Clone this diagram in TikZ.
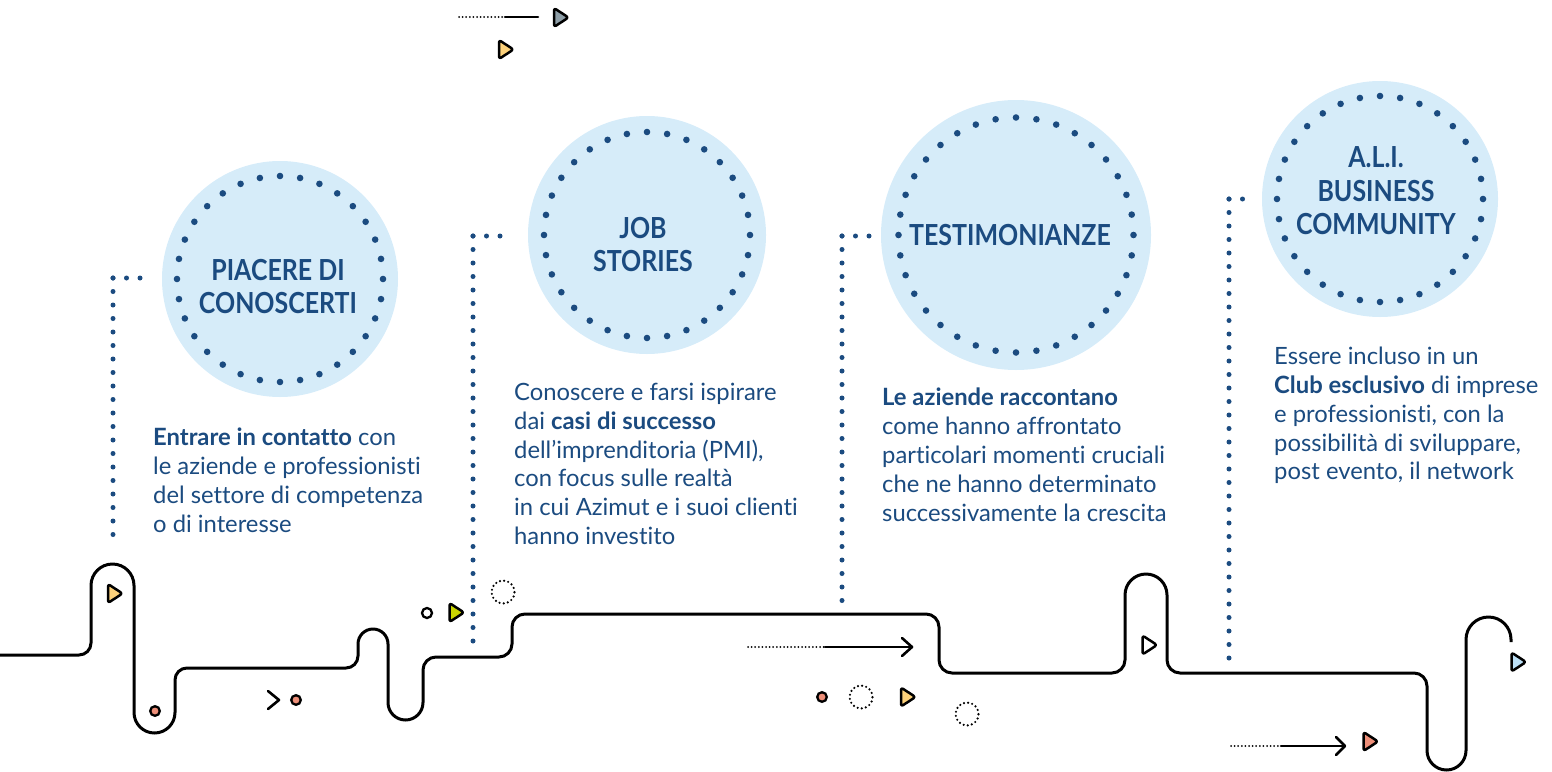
\documentclass[tikz,border=0pt]{standalone}
\usepackage{fontspec}
\setmainfont{Lato}[Ligatures=NoCommon]
\newfontfamily\titlefont[FakeStretch=0.86]{Lato}
\definecolor{darkb}{HTML}{1B4B80}
\definecolor{lightb}{HTML}{D6ECF9}
\definecolor{yellowc}{HTML}{FDD27B}
\definecolor{greyc}{HTML}{8E9EA7}
\definecolor{greenc}{HTML}{C9D400}
\definecolor{salmonc}{HTML}{EE8F79}
\definecolor{skyc}{HTML}{BBDFF5}
\tikzset{
  bigcirc/.style={circle, fill=lightb, inner sep=0pt, minimum size=#1},
  titletext/.style={text=darkb, align=center, inner sep=0pt, font=\titlefont\fontsize{29pt}{33.5pt}\selectfont\bfseries},
  bodytext/.style={text=darkb, align=left, inner sep=0pt, anchor=north west, font=\fontsize{23.8pt}{28.8pt}\selectfont},
  bluedots/.style={darkb, line width=5pt, line cap=round, dash pattern=on 0pt off 13.5pt},
  blackdots/.style={black, line width=2pt, line cap=round, dash pattern=on 0pt off 3.6pt},
  blk/.style={black, line width=2.6pt, line cap=round, line join=round},
  pathline/.style={black, line width=3pt},
  dotcirc/.style={black, line width=2.4pt, line cap=round, dash pattern=on 0pt off 4.2pt},
  pics/tri/.style={code={\draw[black, line width=2.5pt, line join=round, rounded corners=2.5pt, fill=#1] (-6.5,9.5) -- (8,0) -- (-6.5,-9.5) -- cycle;}}
}
\begin{document}
\begin{tikzpicture}[x=1pt, y=-1pt]
\useasboundingbox (0,0) rectangle (1552,771);

% winding path
\draw[pathline] (0,655) -- (79,655) arc[start angle=-90, end angle=0, radius=12pt]
  -- (91,585.5) arc[start angle=180, end angle=0, radius=21.5pt]
  -- (134,712.5) arc[start angle=180, end angle=360, radius=20.5pt]
  -- (175,680) arc[start angle=180, end angle=90, radius=12pt]
  -- (346,668) arc[start angle=-90, end angle=0, radius=12pt]
  -- (358,644) arc[start angle=180, end angle=0, radius=15pt]
  -- (388,702.5) arc[start angle=180, end angle=360, radius=17.5pt]
  -- (423,670) arc[start angle=180, end angle=90, radius=13pt]
  -- (499,657) arc[start angle=-90, end angle=0, radius=13pt]
  -- (512,627) arc[start angle=180, end angle=90, radius=13pt]
  -- (926,614) arc[start angle=90, end angle=0, radius=13pt]
  -- (939,660) arc[start angle=180, end angle=270, radius=13pt]
  -- (1112,673) arc[start angle=-90, end angle=0, radius=13pt]
  -- (1125,595) arc[start angle=180, end angle=0, radius=21pt]
  -- (1167,660) arc[start angle=180, end angle=270, radius=13pt]
  -- (1414,673) arc[start angle=90, end angle=0, radius=13pt]
  -- (1427,750.5) arc[start angle=180, end angle=360, radius=19.5pt]
  -- (1466,639.5) arc[start angle=180, end angle=0, radius=22.5pt]
  -- (1511,642);

% circles
\node[bigcirc=236pt] (c1) at (280,279) {};
\node[bigcirc=238pt] (c2) at (647,235) {};
\node[bigcirc=270pt] (c3) at (1016,235) {};
\node[bigcirc=236pt] (c4) at (1380,199) {};
\foreach \a in {0,...,31} {
  \fill[darkb] (c1.center) ++(\a*11.25:103pt) circle (3.3pt);
  \fill[darkb] (c2.center) ++(\a*11.25:103pt) circle (3.3pt);
  \fill[darkb] (c4.center) ++(\a*11.25:103pt) circle (3.3pt);
}
\foreach \a in {0,...,35} {
  \fill[darkb] (c3.center) ++(\a*10:117.5pt) circle (3.3pt);
}

% titles
\node[titletext] (t1) at (278,286.5) {PIACERE DI\\CONOSCERTI};
\node[titletext] (t2) at (643,244.5) {JOB\\STORIES};
\node[titletext] (t3) at (1010,235) {TESTIMONIANZE};
\node[titletext] (t4) at (1376,191) {A.L.I.\\BUSINESS\\COMMUNITY};

% descriptions
\node[bodytext] (d1) at (153,428) {\textbf{Entrare in contatto} con\\le aziende e professionisti\\del settore di competenza\\o di interesse};
\node[bodytext] (d2) at (514,383) {Conoscere e farsi ispirare\\dai \textbf{casi di successo}\\dell’imprenditoria (PMI),\\con focus sulle realtà\\in cui Azimut e i suoi clienti\\hanno investito};
\node[bodytext] (d3) at (882,388) {\textbf{Le aziende raccontano}\\come hanno affrontato\\particolari momenti cruciali\\che ne hanno determinato\\successivamente la crescita};
\node[bodytext] (d4) at (1274,347) {Essere incluso in un\\\textbf{Club esclusivo} di imprese\\e professionisti, con la\\possibilità di sviluppare,\\post evento, il network};

% blue dotted connectors
\coordinate (k1) at (113,278); \coordinate (s1) at (143,278); \coordinate (e1) at (113,548);
\coordinate (k2) at (473,236); \coordinate (s2) at (510,236); \coordinate (e2) at (473,648);
\coordinate (k3) at (842,236); \coordinate (s3) at (879,236); \coordinate (e3) at (842,603);
\coordinate (k4) at (1229,199); \coordinate (s4) at (1243,199); \coordinate (e4) at (1229,662);
\foreach \i in {1,2,3,4} {
  \draw[bluedots] (k\i) -- (s\i);
  \draw[bluedots] (k\i) -- (e\i);
}

% black arrows
\coordinate (ta1) at (459,17); \coordinate (ta2) at (505,17); \coordinate (ta3) at (538,17);
\draw[blackdots] (ta1) -- (ta2);
\draw[blk] (ta2) -- (ta3);
\coordinate (ma1) at (748,647); \coordinate (ma2) at (825,647); \coordinate (ma3) at (912,647);
\draw[blackdots] (ma1) -- (ma2);
\draw[blk] (ma2) -- (ma3);
\draw[blk] (902,638) -- (ma3) -- (902,656);
\coordinate (ba1) at (1231,746); \coordinate (ba2) at (1281,746); \coordinate (ba3) at (1345,746);
\draw[blackdots] (ba1) -- (ba2);
\draw[blk] (ba2) -- (ba3);
\draw[blk] (1336,737) -- (ba3) -- (1336,755);
\draw[blk] (268,691) -- (279,700) -- (268,709);

% triangles
\pic at (560.5,17.5) {tri=greyc};
\pic at (505.5,49.5) {tri=yellowc};
\pic at (114.5,593.5) {tri=yellowc};
\pic at (456,612.5) {tri=greenc};
\pic at (907.5,697) {tri=yellowc};
\pic at (1149,645) {tri=white};
\pic at (1518,662) {tri=skyc};
\pic at (1370,741.5) {tri=salmonc};

% small circles
\draw[black, line width=2.3pt, fill=salmonc] (155,711) circle (4.8pt);
\draw[black, line width=2.3pt, fill=salmonc] (296,700) circle (4.8pt);
\draw[black, line width=2.3pt, fill=salmonc] (822,697) circle (4.8pt);
\draw[black, line width=2.3pt, fill=white] (427,613) circle (5pt);
\draw[dotcirc] (503,592) circle (11.5pt);
\draw[dotcirc] (861,697) circle (11.5pt);
\draw[dotcirc] (967,714) circle (11.5pt);
\end{tikzpicture}
\end{document}
